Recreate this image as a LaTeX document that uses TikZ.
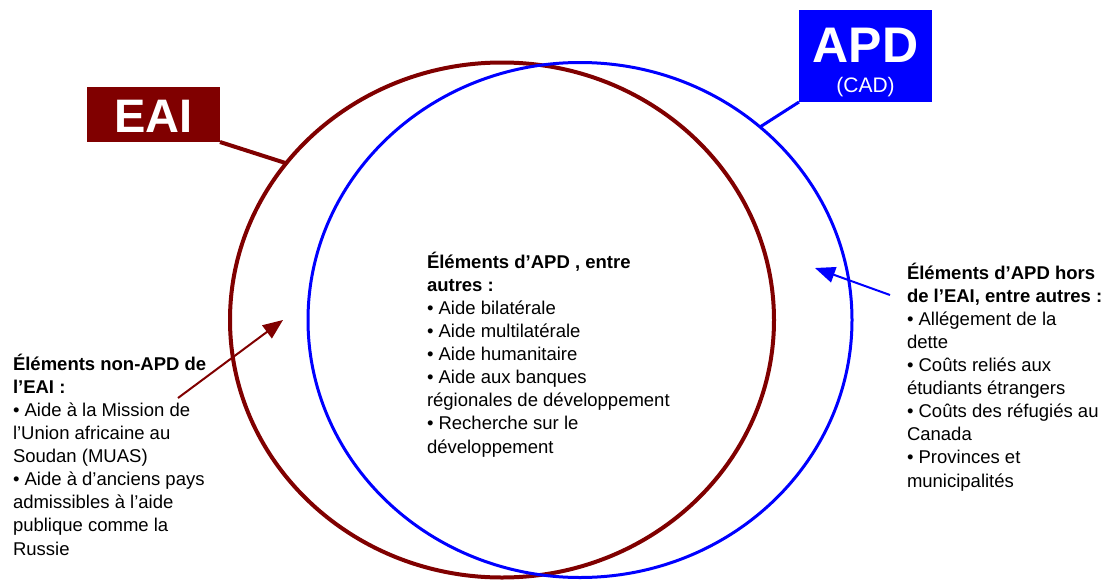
\documentclass[tikz,border=0pt]{standalone}
\usepackage{fontspec}
\setmainfont{Liberation Sans}
\usepackage{xcolor}
\usetikzlibrary{
  shapes.geometric,
  arrows.meta,
  positioning
}
\definecolor{eaired}{HTML}{800000}
\definecolor{apdblue}{HTML}{0000FF}

\begin{document}
\begin{tikzpicture}[x=1pt, y=-1pt,
  every node/.style = {inner sep=0pt, outer sep=0pt},
  aidset/.style = {shape=ellipse, draw, minimum width=544pt, minimum height=515pt},
  tagbox/.style = {fill=#1, minimum width=133pt},
  tagname/.style = {text=white, anchor=base, font=\bfseries\fontsize{#1}{#1}\selectfont},
  listtext/.style = {anchor=base west, align=left,
    font=\fontsize{18.5}{23.1}\selectfont},
  pointer/.style = {-{Triangle[length=20pt,width=16pt]}, line width=2pt}]
  \useasboundingbox (0,0) rectangle (1109,579);
  % the two sets
  \node[aidset, draw=eaired, line width=4pt] (eai) at (502,320) {};
  \node[aidset, draw=apdblue, line width=3pt] (apd) at (580,320) {};
  % tags
  \node[tagbox=eaired, minimum height=55pt] (eaitag) at (153.5,114.5) {};
  \node[tagname=47] (eainame) at (153.5,132) {EAI};
  \node[tagbox=apdblue, minimum height=92pt] (apdtag) at (865.5,56) {};
  \node[tagname=50] (apdname) at (865.5,62) {APD};
  \node[text=white, anchor=base, font=\fontsize{21}{21}\selectfont]
    (apdcad) at (865.5,92) {(CAD)};
  \draw[eaired, line width=4pt] (eaitag.south east) -- (eai.144.7);
  \draw[apdblue, line width=3pt] (apdtag.south west) -- (apd.47);
  % texts (anchored on the baseline of their last line)
  \node[listtext] (nonapd) at (13,555) {%
    \textbf{Éléments non-APD de}\\
    \textbf{l’EAI :}\\
    • Aide à la Mission de\\
    l’Union africaine au\\
    Soudan (MUAS)\\
    • Aide à d’anciens pays\\
    admissibles à l’aide\\
    publique comme la\\
    Russie};
  \node[listtext] (common) at (427,453) {%
    \textbf{Éléments d’APD , entre}\\
    \textbf{autres :}\\
    • Aide bilatérale\\
    • Aide multilatérale\\
    • Aide humanitaire\\
    • Aide aux banques\\
    régionales de développement\\
    • Recherche sur le\\
    développement};
  \node[listtext] (apdonly) at (907,487) {%
    \textbf{Éléments d’APD hors}\\
    \textbf{de l’EAI, entre autres :}\\
    • Allégement de la\\
    dette\\
    • Coûts reliés aux\\
    étudiants étrangers\\
    • Coûts des réfugiés au\\
    Canada\\
    • Provinces et\\
    municipalités};
  % pointers
  \coordinate (nonapdtail) at (178,398);
  \coordinate (nonapdtip) at (283,320);
  \coordinate (apdonlytail) at (890,295);
  \coordinate (apdonlytip) at (815,268);
  \draw[pointer, eaired] (nonapdtail) -- (nonapdtip);
  \draw[pointer, apdblue] (apdonlytail) -- (apdonlytip);
\end{tikzpicture}
\end{document}
